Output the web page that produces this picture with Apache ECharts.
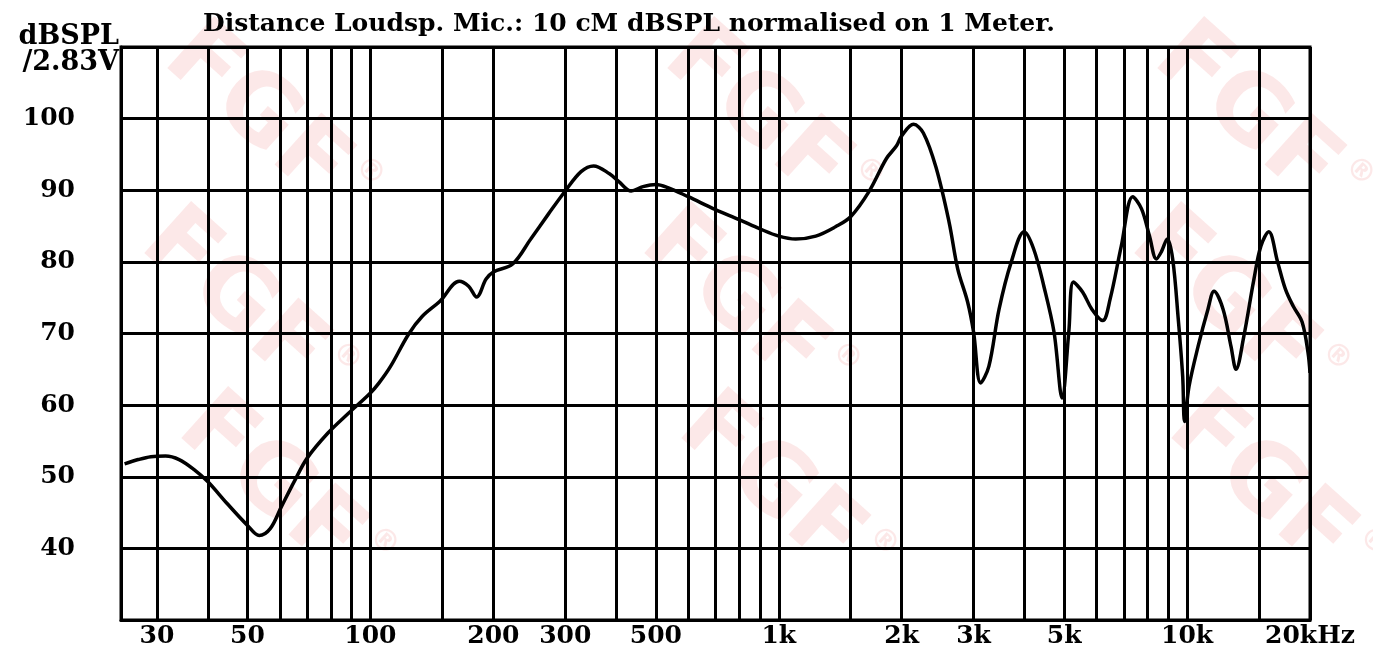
<!DOCTYPE html>
<html><head><meta charset="utf-8">
<script src="https://cdn.jsdelivr.net/npm/echarts@6/dist/echarts.min.js"></script>
<style>html,body{margin:0;padding:0;background:#fff}#c{width:1373px;height:661px}</style>
</head><body><div id="c"></div>
<script>
const titleText = 'Distance Loudsp. Mic.: 10 cM dBSPL normalised on 1 Meter.';
const yName = 'dBSPL\n/2.83V';
const watermarkText = 'FGF';
const watermarkMark = '®';
const freqs = [25, 27, 29, 31.5, 34, 37, 40, 44.5, 50, 53.4, 56.9, 60.5, 65.3, 70, 78.7, 88.5, 100, 105, 112, 124, 134, 148, 165, 174, 182, 192, 200, 223, 247, 273, 300, 328, 352, 385, 406, 435, 465, 500, 533, 600, 700, 800, 900, 1000, 1100, 1232, 1377, 1500, 1663, 1834, 1943, 2000, 2138, 2260, 2427, 2612, 2744, 2901, 3000, 3122, 3270, 3464, 3711, 3990, 4210, 4459, 4722, 4943, 5132, 5267, 5547, 5845, 6212, 6479, 6900, 7360, 7735, 8090, 8410, 8650, 8945, 9220, 9515, 9755, 9860, 10110, 10640, 11250, 11640, 12250, 12810, 13180, 13770, 14580, 15160, 15850, 16660, 17410, 18200, 19130, 19780, 20000];
const spl = [51.8, 52.4, 52.8, 52.9, 52.4, 51.0, 49.3, 46.3, 43.2, 41.8, 42.8, 45.8, 49.5, 52.6, 56.1, 58.9, 61.7, 63.1, 65.4, 69.9, 72.4, 74.5, 77.3, 76.6, 75.1, 77.6, 78.6, 79.7, 83.2, 86.7, 89.9, 92.6, 93.4, 92.3, 91.2, 89.9, 90.5, 90.8, 90.4, 89.1, 87.3, 85.9, 84.6, 83.6, 83.2, 83.6, 84.9, 86.3, 89.8, 94.4, 96.2, 97.6, 99.2, 98.0, 93.2, 85.6, 79.0, 74.4, 70.2, 63.1, 65.4, 73.4, 80.0, 84.2, 81.8, 76.6, 70.2, 61.0, 70.2, 77.2, 75.8, 73.4, 71.8, 74.8, 82.2, 89.1, 87.4, 83.6, 80.4, 81.4, 83.2, 80.4, 72.0, 64.0, 57.7, 62.6, 68.2, 73.4, 75.9, 73.4, 68.2, 65.0, 69.6, 77.6, 82.2, 84.2, 80.0, 76.2, 73.8, 71.6, 67.3, 64.5];
const gridFreqs = [30, 40, 50, 60, 70, 80, 90, 100, 150, 200, 300, 400, 500, 600, 700, 800, 900, 1000, 1500, 2000, 3000, 4000, 5000, 6000, 7000, 8000, 9000, 10000, 15000, 20000];
const tickFreqs = [30, 50, 100, 200, 300, 500, 1000, 2000, 3000, 5000, 10000, 20000];
const tickLabels = ['30', '50', '100', '200', '300', '500', '1k', '2k', '3k', '5k', '10k', '20kHz'];
const yTicks = [40, 50, 60, 70, 80, 90, 100];

const FONT = '"DejaVu Serif", "Liberation Serif", serif';
const chart = echarts.init(document.getElementById('c'), null, {renderer: 'canvas'});

const vLines = gridFreqs.map(f => {
  const k = tickFreqs.indexOf(f);
  return {
    xAxis: f,
    label: k >= 0 ? {show: true, position: 'start', formatter: tickLabels[k], distance: 4,
      color: '#000', fontFamily: FONT, fontWeight: 'bold', fontSize: 25} : {show: false}
  };
});

// faint brand watermark, tiled
const wm = [];
[0, 500, 990].forEach(dx => {
  [[268, 125], [245, 310], [282, 495]].forEach(p => {
    wm.push({
      type: 'text', x: p[0] + dx, y: p[1], rotation: -42 * Math.PI / 180, z: -10, silent: true,
      style: {
        text: '{a|' + watermarkText + '}{r|' + watermarkMark + '}',
        align: 'center', verticalAlign: 'middle',
        rich: {
          a: {fill: 'rgba(238,110,110,0.16)', font: 'bold 96px "DejaVu Sans", sans-serif'},
          r: {fill: 'rgba(238,110,110,0.16)', font: 'bold 30px "DejaVu Sans", sans-serif', verticalAlign: 'top', padding: [0, 0, 40, 4]}
        }
      }
    });
  });
});

chart.setOption({
  animation: false,
  backgroundColor: '#fff',
  graphic: wm,
  title: {
    text: titleText, left: 198, top: 7,
    textStyle: {fontFamily: FONT, fontWeight: 'bold', fontSize: 25, color: '#000'}
  },
  grid: {left: 121, right: 63, top: 47, bottom: 41, show: true, borderColor: '#000', borderWidth: 3, backgroundColor: 'transparent'},
  xAxis: {
    type: 'log', logBase: 10, min: 24.5, max: 20000,
    axisLine: {show: true, lineStyle: {color: '#000', width: 3}},
    axisTick: {show: false}, axisLabel: {show: false}, splitLine: {show: false}, minorSplitLine: {show: false}
  },
  yAxis: {
    type: 'value', min: 30, max: 110, interval: 10,
    name: yName, nameLocation: 'end', nameGap: -29,
    nameTextStyle: {fontFamily: FONT, fontWeight: 'bold', fontSize: 27, color: '#000', align: 'right', verticalAlign: 'bottom', lineHeight: 26, padding: [0, 2, 0, 0]},
    axisLine: {show: true, lineStyle: {color: '#000', width: 3}},
    axisTick: {show: false},
    axisLabel: {margin: 46, color: '#000', fontFamily: FONT, fontWeight: 'bold', fontSize: 25,
      formatter: v => yTicks.indexOf(v) >= 0 ? String(v) : ''},
    splitLine: {show: true, lineStyle: {color: '#000', width: 3}}
  },
  series: [
    {
      type: 'line', data: [], z: 1, silent: true,
      markLine: {silent: true, symbol: ['none', 'none'], animation: false,
        lineStyle: {color: '#000', width: 3, type: 'solid'},
        emphasis: {disabled: true},
        data: vLines}
    },
    {
      type: 'line', z: 5, silent: true,
      data: freqs.map((f, i) => [f, spl[i]]),
      showSymbol: false, smooth: 0.35,
      lineStyle: {color: '#000', width: 3.5}
    }
  ]
});
</script></body></html>
